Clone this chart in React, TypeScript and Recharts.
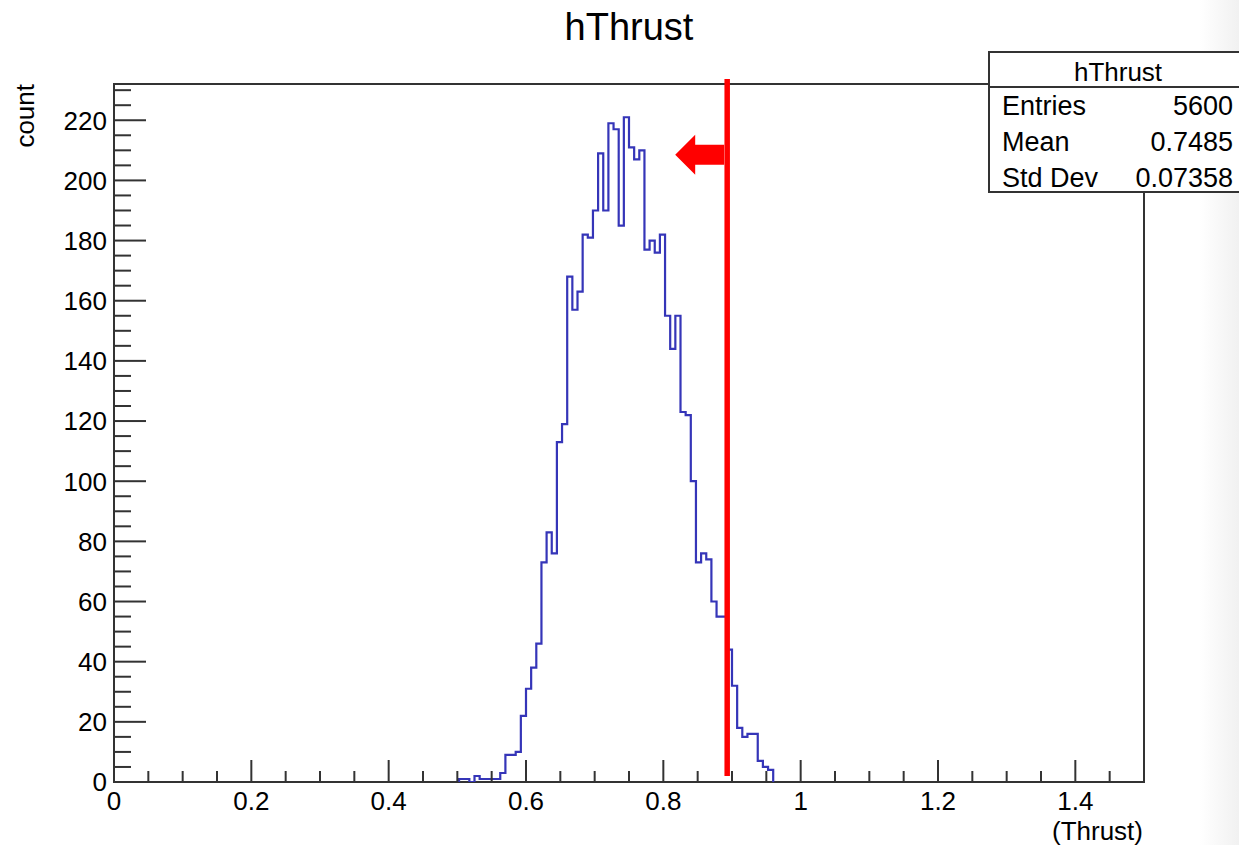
import { LineChart, Line, XAxis, YAxis, ReferenceArea, ReferenceLine, ReferenceDot } from 'recharts';

// hThrust: 200 bins on [0, 1.5]; counts of the filled bins, starting at bin 67
const BIN_WIDTH = 0.0075;
const FIRST_BIN = 67;
const binCounts = [
  1, 1, 0, 2, 1, 1, 1, 1, 3, 9, 9, 10, 22, 31, 38, 46, 73, 83, 76, 113, 119, 168, 157, 163, 182, 181,
  190, 209, 190, 219, 217, 185, 221, 211, 207, 210, 177, 180, 176, 182, 155, 144, 155, 123, 122, 100,
  73, 76, 74, 60, 55, 55, 44, 32, 18, 15, 16, 16, 7, 5, 4,
];

const CUT = 0.893;

const statRows = [
  ['Entries', '5600'],
  ['Mean', '0.7485'],
  ['Std Dev', '0.07358'],
];

const xTickLabels = ['0', '0.2', '0.4', '0.6', '0.8', '1', '1.2', '1.4'];
const yTickLabels = ['0', '20', '40', '60', '80', '100', '120', '140', '160', '180', '200', '220'];
const X_MINOR = 0.05;
const Y_MINOR = 5;

const X_MAX = 1.5;
const Y_MAX = Math.max(...binCounts) * 1.05;

const histData = [
  { x: FIRST_BIN * BIN_WIDTH, n: 0 },
  ...binCounts.map((n, i) => ({ x: (FIRST_BIN + i) * BIN_WIDTH, n })),
  { x: (FIRST_BIN + binCounts.length) * BIN_WIDTH, n: 0 },
];

const xTicks = Array.from({ length: Math.round(X_MAX / X_MINOR) + 1 }, (_, i) => +(i * X_MINOR).toFixed(2));
const yTicks = Array.from({ length: Math.floor(Y_MAX / Y_MINOR) + 1 }, (_, i) => i * Y_MINOR);

const FONT = '"Liberation Sans", Arial, Helvetica, sans-serif';
const AXIS = '#333333';
const HIST = '#3535b8';

function XTick({ x, y, payload }: any) {
  const label = xTickLabels.find((l) => Math.abs(parseFloat(l) - payload.value) < 1e-6);
  const len = label !== undefined ? 22 : 11;
  return (
    <g>
      <line x1={x} x2={x} y1={y} y2={y - len} stroke={AXIS} strokeWidth={2} />
      {label !== undefined && (
        <text x={x} y={y + 28} textAnchor="middle" fontSize={26} fontFamily={FONT} fill="#000">
          {label}
        </text>
      )}
    </g>
  );
}

function YTick({ x, y, payload }: any) {
  const label = yTickLabels.find((l) => parseFloat(l) === payload.value);
  const len = label !== undefined ? 32 : 17;
  return (
    <g>
      <line x1={x} x2={x + len} y1={y} y2={y} stroke={AXIS} strokeWidth={2} />
      {label !== undefined && (
        <text x={x - 7} y={y} dy="0.36em" textAnchor="end" fontSize={26} fontFamily={FONT} fill="#000">
          {label}
        </text>
      )}
    </g>
  );
}

// left-pointing arrow attached to the cut line
function CutArrow({ cx, cy }: any) {
  const lineHalf = 3;
  const pts = [
    [cx - lineHalf, cy - 10],
    [cx - 32, cy - 10],
    [cx - 32, cy - 20],
    [cx - 52, cy],
    [cx - 32, cy + 20],
    [cx - 32, cy + 10],
    [cx - lineHalf, cy + 10],
  ]
    .map((p) => p.join(','))
    .join(' ');
  return <polygon points={pts} fill="#ff0000" />;
}

export default function App() {
  return (
    <div
      style={{
        position: 'absolute',
        left: 0,
        top: 0,
        width: 1239,
        height: 845,
        overflow: 'hidden',
        background: '#fff',
      }}
    >
      <div
        style={{
          position: 'absolute',
          left: 1200,
          top: 0,
          width: 39,
          height: 845,
          background: 'linear-gradient(to right, #ffffff, #f1f1f1)',
        }}
      />
      <div style={{ position: 'absolute', left: 0, top: 0 }}>
        <LineChart width={1239} height={845} data={histData} margin={{ top: 84, right: 95, bottom: 0, left: 0 }}>
          <XAxis
            type="number"
            dataKey="x"
            domain={[0, X_MAX]}
            ticks={xTicks}
            interval={0}
            allowDataOverflow
            axisLine={false}
            tickLine={false}
            tickSize={0}
            tickMargin={0}
            height={63}
            tick={<XTick />}
          />
          <YAxis
            type="number"
            domain={[0, Y_MAX]}
            ticks={yTicks}
            interval={0}
            allowDataOverflow
            axisLine={false}
            tickLine={false}
            tickSize={0}
            tickMargin={0}
            width={114}
            tick={<YTick />}
          />
          <Line
            type="stepAfter"
            dataKey="n"
            stroke={HIST}
            strokeWidth={2.2}
            dot={false}
            activeDot={false}
            isAnimationActive={false}
          />
          <ReferenceArea
            x1={0}
            x2={X_MAX}
            y1={0}
            y2={Y_MAX}
            fill="none"
            fillOpacity={0}
            stroke={AXIS}
            strokeWidth={2}
            ifOverflow="visible"
          />
          <ReferenceLine
            segment={[
              { x: CUT, y: 2 },
              { x: CUT, y: 233.7 },
            ]}
            stroke="#ff0000"
            strokeWidth={5.5}
            ifOverflow="visible"
          />
          <ReferenceDot x={CUT} y={208.5} r={0} ifOverflow="visible" shape={<CutArrow />} />
        </LineChart>
      </div>
      <svg
        width={1239}
        height={845}
        style={{ position: 'absolute', left: 0, top: 0, pointerEvents: 'none' }}
        fontFamily={FONT}
      >
        <text x={629} y={40} textAnchor="middle" fontSize={38} fill="#000">
          hThrust
        </text>
        <text transform="translate(34,84) rotate(-90)" textAnchor="end" fontSize={26} fill="#000">
          count
        </text>
        <text x={1143} y={840} textAnchor="end" fontSize={26} fill="#000">
          (Thrust)
        </text>
        <rect x={989} y={52} width={262} height={140} fill="#fff" stroke={AXIS} strokeWidth={2} />
        <line x1={989} x2={1251} y1={87} y2={87} stroke={AXIS} strokeWidth={2} />
        <text x={1118} y={81} textAnchor="middle" fontSize={26} fill="#000">
          hThrust
        </text>
        {statRows.map(([name, value], i) => (
          <g key={name}>
            <text x={1002} y={115 + i * 35.8} fontSize={27} fill="#000">
              {name}
            </text>
            <text x={1233} y={115 + i * 35.8} textAnchor="end" fontSize={27} fill="#000">
              {value}
            </text>
          </g>
        ))}
      </svg>
    </div>
  );
}
